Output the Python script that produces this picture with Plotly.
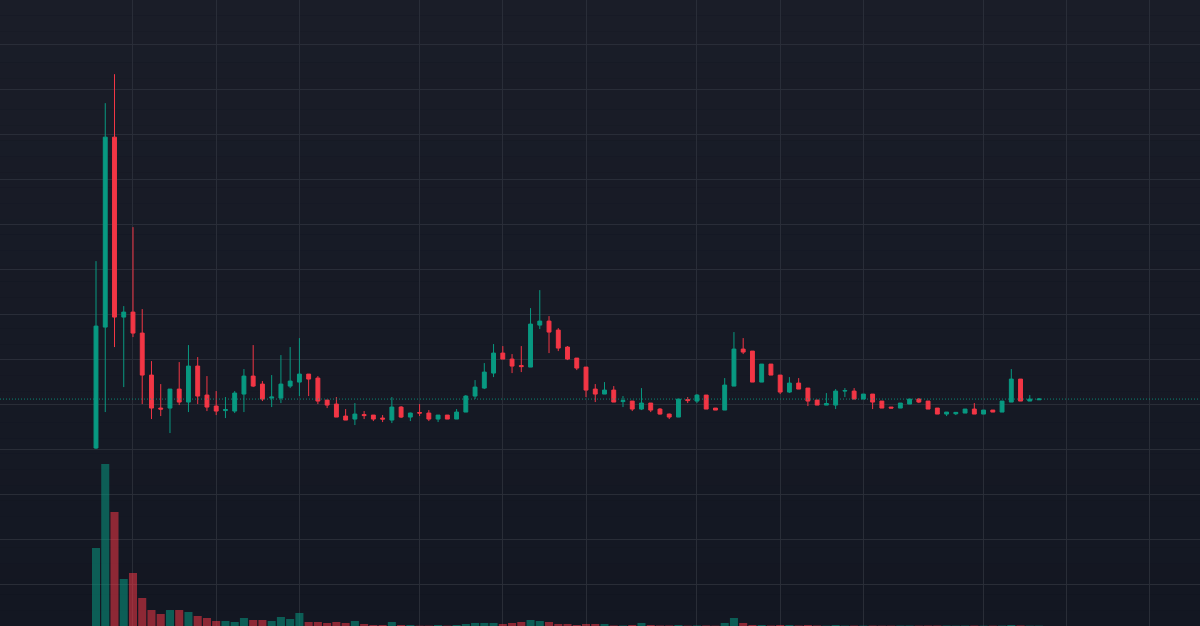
import plotly.graph_objects as go

# ---- data ----
idx = list(range(103))

opens = [1.78, 2.99, 4.89, 3.09, 3.14, 2.93, 2.51, 2.18, 2.18, 2.37,
         2.24, 2.60, 2.31, 2.20, 2.155, 2.15, 2.32, 2.50, 2.42, 2.28,
         2.28, 2.40, 2.44, 2.52, 2.48, 2.26, 2.22, 2.10, 2.07, 2.115,
         2.11, 2.08, 2.06, 2.19, 2.09, 2.135, 2.13, 2.07, 2.11, 2.07,
         2.14, 2.30, 2.38, 2.53, 2.73, 2.67, 2.605, 2.59, 3.01, 3.05,
         2.96, 2.79, 2.68, 2.59, 2.37, 2.32, 2.36, 2.245, 2.25, 2.17,
         2.23, 2.17, 2.12, 2.09, 2.265, 2.25, 2.31, 2.18, 2.16, 2.40,
         2.77, 2.75, 2.44, 2.62, 2.51, 2.34, 2.43, 2.38, 2.26, 2.21,
         2.21, 2.35, 2.35, 2.27, 2.32, 2.25, 2.19, 2.18, 2.22, 2.27,
         2.25, 2.18, 2.12, 2.123, 2.13, 2.17, 2.12, 2.16, 2.14, 2.24,
         2.47, 2.25, 2.263]
highs = [3.65, 5.23, 5.52, 3.20, 3.99, 3.17, 2.65, 2.42, 2.37, 2.64,
         2.81, 2.69, 2.50, 2.35, 2.29, 2.35, 2.57, 2.81, 2.45, 2.51,
         2.71, 2.79, 2.88, 2.52, 2.50, 2.26, 2.29, 2.17, 2.23, 2.15,
         2.11, 2.11, 2.29, 2.20, 2.135, 2.22, 2.16, 2.11, 2.11, 2.17,
         2.31, 2.46, 2.63, 2.82, 2.80, 2.72, 2.80, 3.18, 3.36, 3.10,
         2.98, 2.80, 2.68, 2.59, 2.42, 2.44, 2.40, 2.30, 2.25, 2.38,
         2.23, 2.18, 2.125, 2.27, 2.29, 2.32, 2.31, 2.18, 2.48, 2.94,
         2.88, 2.75, 2.62, 2.62, 2.51, 2.49, 2.48, 2.38, 2.26, 2.33,
         2.37, 2.38, 2.38, 2.32, 2.32, 2.25, 2.19, 2.23, 2.27, 2.28,
         2.25, 2.18, 2.14, 2.137, 2.17, 2.23, 2.16, 2.16, 2.25, 2.57,
         2.47, 2.31, 2.28]
lows = [1.77, 2.14, 2.79, 2.39, 2.89, 2.22, 2.07, 2.10, 1.93, 2.21,
        2.14, 2.22, 2.15, 2.11, 2.08, 2.13, 2.14, 2.39, 2.25, 2.19,
        2.23, 2.38, 2.30, 2.30, 2.22, 2.18, 2.09, 2.06, 2.01, 2.07,
        2.05, 2.04, 2.03, 2.08, 2.05, 2.10, 2.05, 2.04, 2.07, 2.07,
        2.14, 2.27, 2.37, 2.49, 2.67, 2.53, 2.54, 2.59, 2.97, 2.73,
        2.75, 2.66, 2.56, 2.29, 2.24, 2.32, 2.24, 2.19, 2.15, 2.16,
        2.14, 2.115, 2.07, 2.09, 2.23, 2.23, 2.17, 2.16, 2.16, 2.40,
        2.72, 2.44, 2.44, 2.51, 2.32, 2.33, 2.37, 2.20, 2.21, 2.21,
        2.17, 2.29, 2.27, 2.27, 2.17, 2.18, 2.18, 2.18, 2.22, 2.23,
        2.17, 2.12, 2.10, 2.11, 2.13, 2.12, 2.12, 2.14, 2.14, 2.24,
        2.25, 2.25, 2.263]
closes = [3.00, 4.89, 3.09, 3.14, 2.93, 2.51, 2.18, 2.17, 2.37, 2.24,
          2.60, 2.30, 2.19, 2.15, 2.165, 2.33, 2.50, 2.40, 2.27, 2.29,
          2.42, 2.45, 2.52, 2.47, 2.25, 2.21, 2.09, 2.06, 2.12, 2.105,
          2.07, 2.07, 2.19, 2.09, 2.13, 2.13, 2.07, 2.11, 2.07, 2.14,
          2.30, 2.39, 2.54, 2.73, 2.67, 2.60, 2.595, 3.02, 3.05, 2.94,
          2.78, 2.67, 2.58, 2.36, 2.32, 2.36, 2.24, 2.255, 2.17, 2.23,
          2.16, 2.12, 2.09, 2.27, 2.255, 2.31, 2.17, 2.16, 2.41, 2.77,
          2.74, 2.44, 2.62, 2.51, 2.34, 2.43, 2.37, 2.25, 2.21, 2.225,
          2.35, 2.355, 2.27, 2.32, 2.24, 2.18, 2.18, 2.23, 2.27, 2.24,
          2.17, 2.12, 2.14, 2.137, 2.17, 2.12, 2.16, 2.14, 2.25, 2.47,
          2.25, 2.27, 2.27]
volumes = [780, 1620, 1140, 470, 530, 280, 160, 120, 160, 160,
           140, 100, 80, 50, 50, 40, 80, 60, 60, 50,
           90, 70, 130, 40, 40, 30, 40, 30, 50, 20,
           10, 10, 40, 10, 10, 3, 3, 10, 3, 10,
           20, 30, 30, 30, 20, 30, 40, 60, 50, 40,
           20, 20, 10, 20, 20, 20, 5, 5, 10, 30,
           10, 5, 5, 10, 3, 5, 5, 3, 30, 80,
           30, 10, 10, 5, 10, 10, 5, 10, 5, 3,
           10, 4, 4, 4, 4, 3, 3, 4, 4, 3,
           4, 4, 4, 3, 4, 4, 3, 3, 4, 10,
           5, 3, 3]

x_grid_ticks = [4, 13, 22, 35, 44, 53, 65, 74, 83, 96, 105, 114]

UP = "#089981"
DOWN = "#f23645"
UP_VOL = "rgba(8,153,129,0.55)"
DOWN_VOL = "rgba(242,54,69,0.55)"
GRID = "rgba(42,46,57,0.95)"

vol_colors = [UP_VOL if c >= o else DOWN_VOL for o, c in zip(opens, closes)]

fig = go.Figure()

fig.add_trace(go.Candlestick(
    x=idx, open=opens, high=highs, low=lows, close=closes,
    increasing=dict(line=dict(color=UP, width=1), fillcolor=UP),
    decreasing=dict(line=dict(color=DOWN, width=1), fillcolor=DOWN),
    whiskerwidth=0, showlegend=False, hoverinfo="skip",
    xaxis="x", yaxis="y",
))

fig.add_trace(go.Bar(
    x=idx, y=volumes, marker=dict(color=vol_colors, line=dict(width=0)),
    width=0.87, showlegend=False, hoverinfo="skip",
    xaxis="x", yaxis="y2",
))

# background gradient (style only)
shapes = []
n_bands = 40
top_c = (26, 29, 40)
bot_c = (19, 23, 34)
for k in range(n_bands):
    t = k / (n_bands - 1)
    col = tuple(round(top_c[j] + (bot_c[j] - top_c[j]) * t) for j in range(3))
    shapes.append(dict(type="rect", xref="paper", yref="paper",
                       x0=0, x1=1, y0=1 - (k + 1) / n_bands, y1=1 - k / n_bands,
                       fillcolor="rgb(%d,%d,%d)" % col, line=dict(width=0),
                       layer="below"))

# last price line
shapes.append(dict(type="line", xref="paper", yref="y", x0=0, x1=1,
                   y0=closes[-1], y1=closes[-1],
                   line=dict(color="rgba(8,153,129,0.85)", width=1, dash="1px,2px"),
                   layer="above"))

fig.update_layout(
    width=1200, height=626,
    margin=dict(l=0, r=0, t=0, b=0),
    paper_bgcolor="#131722",
    plot_bgcolor="rgba(0,0,0,0)",
    boxgap=0.4,
    showlegend=False,
    shapes=shapes,
    xaxis=dict(range=[-10.384, 119.41], tickvals=x_grid_ticks, showticklabels=False,
               showgrid=True, gridcolor=GRID, gridwidth=1, zeroline=False,
               rangeslider=dict(visible=False), showline=False, ticks=""),
    yaxis=dict(range=[0, 6.262], tick0=0.418, dtick=0.4495, showticklabels=False,
               showgrid=True, gridcolor=GRID, gridwidth=1, zeroline=False,
               showline=False, ticks=""),
    yaxis2=dict(range=[0, 6260], overlaying="y", showgrid=False, showticklabels=False,
                zeroline=False, showline=False, ticks=""),
)

fig.write_html("out.html")
